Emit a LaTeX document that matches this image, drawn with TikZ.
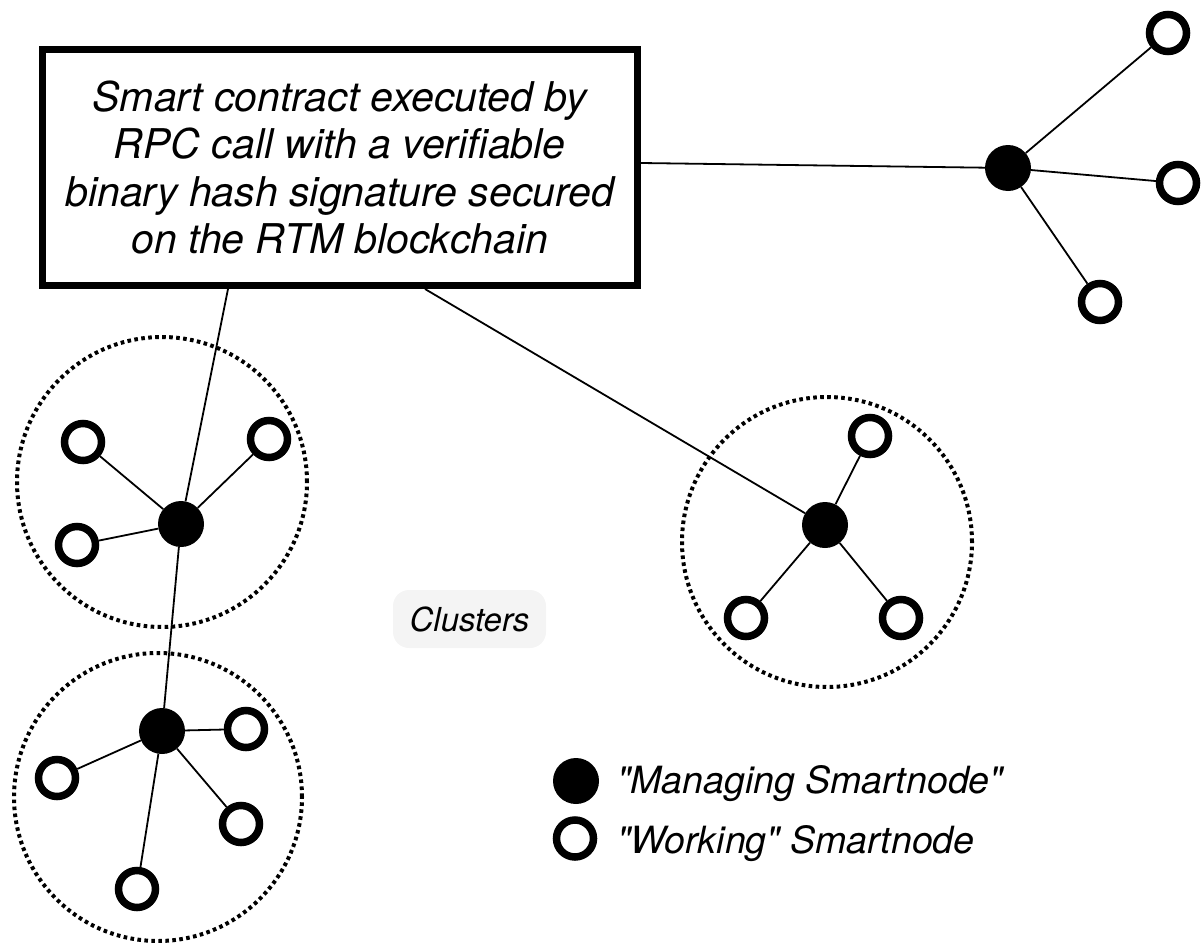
\documentclass[tikz,border=0pt]{standalone}
\usepackage{fontspec}
\setmainfont{TeX Gyre Heros}[Ligatures=TeXOff]
\usetikzlibrary{calc}
\definecolor{pillgray}{HTML}{F4F4F4}
\newcommand{\sq}{\char"22\relax}
\tikzset{
  manager/.style={circle, fill=black, inner sep=0pt, minimum size=46pt},
  worker/.style={circle, draw=black, fill=white, line width=7.5pt, inner sep=0pt, minimum size=37pt},
  link/.style={draw=black, line width=1.8pt},
  cluster/.style={circle, draw=black, line width=4pt, dash pattern=on 3.6pt off 3.4pt, inner sep=0pt},
  infobox/.style={draw=black, line width=7pt, fill=white, align=center, inner sep=0pt,
    font=\fontsize{41}{47.5}\selectfont\itshape},
  pill/.style={fill=pillgray, rounded corners=16pt, inner sep=0pt,
    font=\fontsize{33}{38}\selectfont\itshape},
  legendtext/.style={anchor=base west, inner sep=0pt, font=\fontsize{37.5}{44}\selectfont\itshape}
}
\begin{document}
\begin{tikzpicture}[x=1pt, y=-1pt]
\useasboundingbox (0,0) rectangle (1201,942);

% dotted cluster outlines
\node[cluster, minimum size=290pt] (cl1) at (162,482) {};
\node[cluster, minimum size=288pt] (cl2) at (158,797) {};
\node[cluster, minimum size=290pt] (cl3) at (827,542) {};

% contract box
\node[infobox, minimum width=595.5pt, minimum height=236pt] (box) at (339.75,167.5)
  {Smart contract executed by\\RPC call with a verifiable\\binary hash signature secured\\on the RTM blockchain};

% attachment points on the box border
\coordinate (tapE) at (641,163);
\coordinate (tapS1) at (228,289);
\coordinate (tapS2) at (425,289);

% managing smartnodes
\node[manager] (mR) at (1008,168) {};
\node[manager] (m1) at (181,524) {};
\node[manager] (m2) at (162,731) {};
\node[manager] (m3) at (825,525) {};

% working smartnodes
\node[worker] (wR1) at (1168,33) {};
\node[worker] (wR2) at (1178,183) {};
\node[worker] (wR3) at (1100,302) {};

\node[worker] (w11) at (83,442) {};
\node[worker] (w12) at (269,439) {};
\node[worker] (w13) at (77,545) {};

\node[worker] (w21) at (246,729) {};
\node[worker] (w22) at (57,778) {};
\node[worker] (w23) at (241,824) {};
\node[worker] (w24) at (137,889) {};

\node[worker] (w31) at (870,436) {};
\node[worker] (w32) at (746,618) {};
\node[worker] (w33) at (901,618) {};

% connectors
\path[link] (tapE) -- (mR);
\path[link] (tapS1) -- (m1);
\path[link] (m1) -- (m2);
\path[link] (tapS2) -- (m3);

\path[link] (mR) -- (wR1);
\path[link] (mR) -- (wR2);
\path[link] (mR) -- (wR3);

\path[link] (m1) -- (w11);
\path[link] (m1) -- (w12);
\path[link] (m1) -- (w13);

\path[link] (m2) -- (w21);
\path[link] (m2) -- (w22);
\path[link] (m2) -- (w23);
\path[link] (m2) -- (w24);

\path[link] (m3) -- (w31);
\path[link] (m3) -- (w32);
\path[link] (m3) -- (w33);

% label
\node[pill, minimum width=153pt, minimum height=58pt] (clusters) at (469.5,619) {Clusters};

% legend
\node[manager] (keyM) at (576,781) {};
\node[worker] (keyW) at (575,838.5) {};
\node[legendtext] (keyMtxt) at (617,793) {\sq Managing Smartnode\sq};
\node[legendtext] (keyWtxt) at (617,853) {\sq Working\sq{} Smartnode};
\end{tikzpicture}
\end{document}
